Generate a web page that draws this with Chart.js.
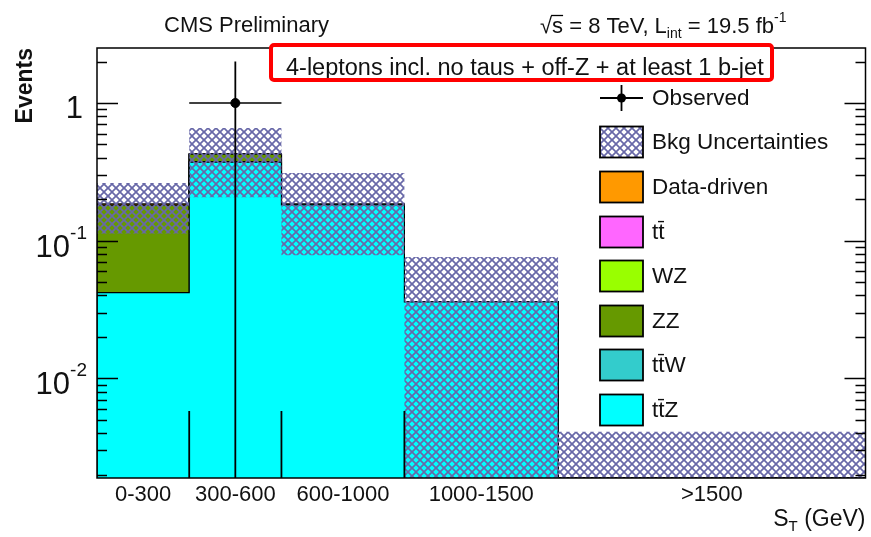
<!DOCTYPE html>
<html>
<head>
<meta charset="utf-8">
<script src="https://cdn.jsdelivr.net/npm/chart.js@4"></script>
<style>
  body { margin: 0; background: #fff; }
  canvas { display: block; }
</style>
</head>
<body>
<canvas id="result-chart" width="871" height="537"></canvas>
<script>
// S_T bins (GeV) and their labels
const binEdges = [0, 300, 600, 1000, 1500, 2500];
const binCenters = [150, 450, 800, 1250, 2000];
const binLabels = ["0-300", "300-600", "600-1000", "1000-1500", ">1500"];

// backgrounds, bottom of the stack first
const ttZ = [0.042, 0.372, 0.182, 0.036, 0];
const ttW = [0.0, 0.004, 0.002, 0.0, 0];
const zz = [0.139, 0.05, 0.0, 0.0, 0];
const wz = [0, 0, 0, 0, 0];
const ttbar = [0, 0, 0, 0, 0];
const dataDriven = [0.004, 0, 0, 0, 0];

// total background uncertainty band
const uncHigh = [0.262, 0.658, 0.31, 0.076, 0.0041];
const uncLow = [0.113, 0.207, 0.0785, 0, 0];

// observed
const obsBin = 1;
const obsValue = 1;
const obsHigh = 2.0;
const obsLow = 0;

// short bin-edge stubs at the bottom
const stubX = [300, 600, 1000];
const stubTop = 0.0058;

const yTickValues = [1, 0.1, 0.01];

const Y_MIN = 0.00189;
const Y_MAX = 2.51;
const FONT = "'Liberation Sans', Arial, sans-serif";
const INK = "#111";

const make_hatch = () => {
  const c = document.createElement("canvas");
  c.width = 8;
  c.height = 8;
  const g = c.getContext("2d");
  g.strokeStyle = "rgb(104,104,168)";
  g.lineWidth = 1.7;
  for (let k = -1; k <= 1; k++) {
    g.beginPath();
    g.moveTo(0 + k * 8, 0);
    g.lineTo(8 + k * 8, 8);
    g.stroke();
    g.beginPath();
    g.moveTo(0 + k * 8, 8);
    g.lineTo(8 + k * 8, 0);
    g.stroke();
  }
  return g.createPattern(c, "repeat");
};
const hatch = make_hatch();

const step_points = (values) => {
  const pts = [{ x: binEdges[0], y: Y_MIN }];
  values.forEach((v, i) => {
    const y = Math.max(v, Y_MIN);
    pts.push({ x: binEdges[i], y: y }, { x: binEdges[i + 1], y: y });
  });
  pts.push({ x: binEdges[binEdges.length - 1], y: Y_MIN });
  return pts;
};

const band_points = (values) => {
  const pts = [];
  values.forEach((v, i) => {
    const y = Math.max(v, Y_MIN);
    pts.push({ x: binEdges[i], y: y }, { x: binEdges[i + 1], y: y });
  });
  return pts;
};

const stack = [
  { label: "tt\u0304Z", color: "#00ffff", values: ttZ },
  { label: "tt\u0304W", color: "#33cccc", values: ttW },
  { label: "ZZ", color: "#669900", values: zz },
  { label: "WZ", color: "#99ff00", values: wz },
  { label: "tt\u0304", color: "#ff66ff", values: ttbar },
  { label: "Data-driven", color: "#ff9900", values: dataDriven },
];

let running = binEdges.slice(1).map(() => 0);
const stackSets = stack.map((s) => {
  running = running.map((r, i) => r + s.values[i]);
  return {
    label: s.label,
    data: step_points(running),
    borderColor: "#000",
    borderWidth: 1.2,
    backgroundColor: s.color,
    fill: "start",
    pointRadius: 0,
    tension: 0,
  };
});

const stubData = [];
stubX.forEach((x) => {
  stubData.push({ x: x, y: stubTop }, { x: x, y: Y_MIN }, { x: x, y: null });
});

const line_set = (data, width) => ({
  data: data,
  borderColor: "#000",
  borderWidth: width,
  pointRadius: 0,
  fill: false,
  spanGaps: false,
});

const obsX = binCenters[obsBin];
const datasets = [
  {
    data: [{ x: obsX, y: obsValue }],
    showLine: false,
    pointRadius: 4.5,
    pointBackgroundColor: "#000",
    pointBorderColor: "#000",
  },
  line_set([{ x: binEdges[obsBin], y: obsValue }, { x: binEdges[obsBin + 1], y: obsValue }], 1.6),
  line_set([{ x: obsX, y: obsHigh }, { x: obsX, y: Math.max(obsLow, Y_MIN) }], 1.8),
  line_set(stubData, 1.8),
  {
    data: band_points(uncHigh),
    borderWidth: 0,
    borderColor: "rgba(0,0,0,0)",
    backgroundColor: hatch,
    fill: "+1",
    pointRadius: 0,
  },
  {
    data: band_points(uncLow),
    borderWidth: 0,
    borderColor: "rgba(0,0,0,0)",
    fill: false,
    pointRadius: 0,
  },
  ...stackSets,
];

const text_at = (ctx, str, x, y, size, align, weight) => {
  ctx.font = `${weight || ""} ${size}px ${FONT}`;
  ctx.textAlign = align || "left";
  ctx.fillText(str, x, y);
  return ctx.measureText(str).width;
};

const decorations = {
  id: "decorations",
  afterDraw(chart) {
    const { ctx, chartArea: a, scales } = chart;
    const ys = scales.y;
    ctx.save();
    ctx.fillStyle = INK;
    ctx.strokeStyle = "#000";

    // frame
    ctx.lineWidth = 1.5;
    ctx.strokeRect(a.left, a.top, a.right - a.left, a.bottom - a.top);

    // log ticks, inward on both sides
    for (let d = -3; d <= 0; d++) {
      for (let m = 1; m <= 9; m++) {
        const v = m * Math.pow(10, d);
        if (v < Y_MIN || v > Y_MAX) continue;
        const py = Math.round(ys.getPixelForValue(v)) + 0.5;
        const len = m === 1 ? 21 : 10;
        ctx.beginPath();
        ctx.moveTo(a.left, py);
        ctx.lineTo(a.left + len, py);
        ctx.moveTo(a.right, py);
        ctx.lineTo(a.right - len, py);
        ctx.stroke();
      }
    }

    // y labels
    ctx.textBaseline = "alphabetic";
    yTickValues.forEach((v) => {
      const py = ys.getPixelForValue(v);
      if (v === 1) {
        text_at(ctx, "1", 83, py + 15, 31, "right");
      } else {
        const exp = String(Math.round(Math.log10(v)));
        ctx.font = `19px ${FONT}`;
        const ew = ctx.measureText(exp).width;
        text_at(ctx, exp, 87, py - 2, 19, "right");
        text_at(ctx, "10", 87 - ew, py + 16, 31, "right");
      }
    });

    // axis titles
    ctx.save();
    ctx.translate(32, 48);
    ctx.rotate(-Math.PI / 2);
    text_at(ctx, "Events", 0, 0, 23, "right", "bold");
    ctx.restore();

    ctx.font = `23px ${FONT}`;
    const gw = ctx.measureText(" (GeV)").width;
    text_at(ctx, " (GeV)", a.right, 526, 23, "right");
    const tw = text_at(ctx, "T", a.right - gw, 531, 15, "right");
    text_at(ctx, "S", a.right - gw - tw, 526, 23, "right");

    // header
    text_at(ctx, "CMS Preliminary", 164, 32, 22);
    let x = 540;
    x += text_at(ctx, "\u221A", x, 33, 22);
    const sw = text_at(ctx, "s", x, 33, 22);
    ctx.lineWidth = 1.3;
    ctx.beginPath();
    ctx.moveTo(x - 1, 15.5);
    ctx.lineTo(x + sw, 15.5);
    ctx.stroke();
    x += sw;
    x += text_at(ctx, " = 8 TeV, L", x, 33, 22);
    x += text_at(ctx, "int", x, 38, 14);
    x += text_at(ctx, " = 19.5 fb", x, 33, 22);
    text_at(ctx, "-1", x, 22, 14);

    // selection label with red frame
    ctx.fillStyle = "#fff";
    ctx.fillRect(272, 47, 499, 31);
    ctx.fillStyle = INK;
    text_at(ctx, "4-leptons incl. no taus + off-Z + at least 1 b-jet", 286, 75, 23.5);
    ctx.fillStyle = "#fff";
    ctx.fillRect(270, 78, 505, 4);
    ctx.strokeStyle = "#ff0000";
    ctx.lineWidth = 4;
    ctx.beginPath();
    ctx.roundRect(271, 45, 501, 35, 3);
    ctx.stroke();
    ctx.strokeStyle = "#000";

    // legend
    const bx = 600, bw = 43, bh = 31, tx = 652;
    const rows = [98, 142, 187, 232, 276, 321, 365, 410];
    ctx.lineWidth = 1.8;
    ctx.beginPath();
    ctx.moveTo(bx, rows[0]);
    ctx.lineTo(bx + bw, rows[0]);
    ctx.moveTo(bx + bw / 2, rows[0] - 13);
    ctx.lineTo(bx + bw / 2, rows[0] + 13);
    ctx.stroke();
    ctx.beginPath();
    ctx.arc(bx + bw / 2, rows[0], 4.5, 0, Math.PI * 2);
    ctx.fillStyle = "#000";
    ctx.fill();
    const entries = [
      { label: "Bkg Uncertainties", fill: hatch },
      ...stack.slice().reverse().map((s) => ({ label: s.label, fill: s.color })),
    ];
    ctx.textBaseline = "middle";
    ctx.fillStyle = INK;
    text_at(ctx, "Observed", tx, rows[0] + 1, 22.5);
    entries.forEach((e, i) => {
      const cy = rows[i + 1];
      ctx.fillStyle = "#fff";
      ctx.fillRect(bx, cy - bh / 2, bw, bh);
      ctx.fillStyle = e.fill;
      ctx.fillRect(bx, cy - bh / 2, bw, bh);
      ctx.lineWidth = 1.8;
      ctx.strokeRect(bx, cy - bh / 2, bw, bh);
      ctx.fillStyle = INK;
      text_at(ctx, e.label, tx, cy + 1, 22.5);
    });
    ctx.restore();
  },
};

const config = {
  type: "line",
  data: { datasets: datasets },
  options: {
    responsive: false,
    animation: false,
    layout: { padding: { top: 48, right: 5, left: 0, bottom: 0 } },
    plugins: { legend: { display: false }, tooltip: { enabled: false } },
    scales: {
      x: {
        type: "linear",
        min: binEdges[0],
        max: binEdges[binEdges.length - 1],
        grid: { display: false, drawTicks: false },
        border: { display: false },
        afterBuildTicks: (scale) => {
          scale.ticks = binCenters.map((v) => ({ value: v }));
        },
        afterFit: (scale) => {
          scale.height = 59;
        },
        ticks: {
          autoSkip: false,
          maxRotation: 0,
          padding: 4,
          color: INK,
          font: { family: FONT, size: 22 },
          callback: (value, index) => binLabels[index],
        },
      },
      y: {
        type: "logarithmic",
        min: Y_MIN,
        max: Y_MAX,
        grid: { display: false },
        border: { display: false },
        ticks: { display: false },
        afterFit: (scale) => {
          scale.width = 97;
        },
      },
    },
  },
  plugins: [decorations],
};

const resultChart = new Chart(document.getElementById("result-chart"), config);
</script>
</body>
</html>
